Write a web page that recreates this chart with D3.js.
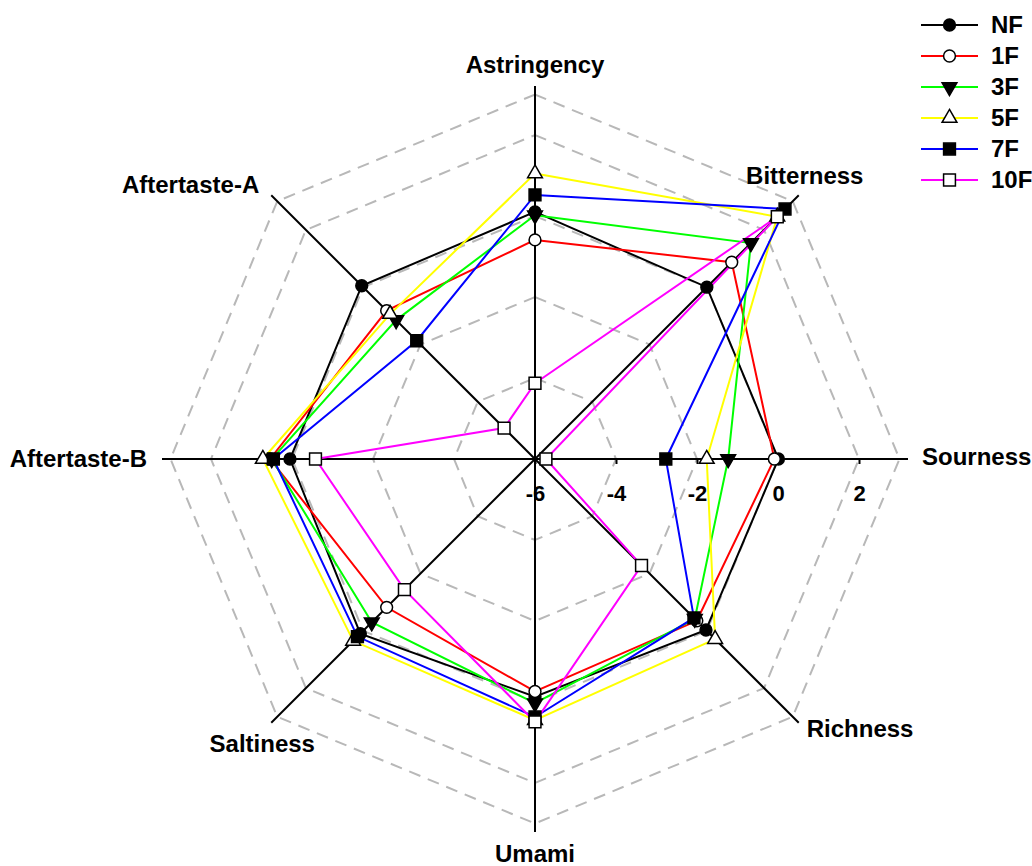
<!DOCTYPE html>
<html>
<head>
<meta charset="utf-8">
<script src="https://cdn.jsdelivr.net/npm/d3@7"></script>
<style>
  html, body { margin: 0; padding: 0; background: #fff; }
  svg { display: block; font-family: "Liberation Sans", Arial, sans-serif; }
</style>
</head>
<body>
<svg id="chart" width="1032" height="866"></svg>
<script>
// Taste attributes, clockwise from the top
const attributes = ["Astringency", "Bitterness", "Sourness", "Richness", "Umami", "Saltiness", "Aftertaste-B", "Aftertaste-A"];

// Sensor scores per sample, in attribute order
const seriesNames = ["NF", "1F", "3F", "5F", "7F", "10F"];
const valuesNF  = [0.10, 0.00, 0.01, -0.03, -0.13, 0.10, 0.05, 0.05];
const values1F  = [-0.59, 0.87, -0.09, -0.35, -0.26, -0.82, 0.54, -0.82];
const values3F  = [0.02, 1.54, -1.23, -0.42, 0.03, -0.30, 0.50, -1.15];
const values5F  = [1.05, 2.46, -1.76, 0.29, 0.45, 0.35, 0.72, -0.94];
const values7F  = [0.52, 2.73, -2.77, -0.45, 0.37, 0.20, 0.46, -1.87];
const values10F = [-4.13, 2.46, -5.73, -2.28, 0.49, -1.44, -0.58, -4.92];

// Radial scale labels and grid rings
const tickValues = [-6, -4, -2, 0, 2];
const ringValues = [-4, -2, 0, 2, 3];

const seriesValues = [valuesNF, values1F, values3F, values5F, values7F, values10F];
const colors = ["#000000", "#ff0000", "#00ff00", "#ffff00", "#0000ff", "#ff00ff"];
const shapes = [
  { type: d3.symbolCircle, size: 110, fill: "#000", rot: 0 },
  { type: d3.symbolCircle, size: 110, fill: "#fff", rot: 0 },
  { type: d3.symbolTriangle, size: 95, fill: "#000", rot: 180 },
  { type: d3.symbolTriangle, size: 95, fill: "#fff", rot: 0 },
  { type: d3.symbolSquare, size: 140, fill: "#000", rot: 0 },
  { type: d3.symbolSquare, size: 140, fill: "#fff", rot: 0 }
];

const svg = d3.select("#chart");
const cx = 535, cy = 459;
const r = d3.scaleLinear().domain([-6, 3]).range([0, 364.5]);
const axisLen = 373;

const angle = i => -Math.PI / 2 + i * 2 * Math.PI / attributes.length;
const pt = (i, rad) => [cx + rad * Math.cos(angle(i)), cy + rad * Math.sin(angle(i))];

// Dashed octagonal grid rings
const g = svg.append("g");
ringValues.forEach(v => {
  const pts = attributes.map((_, i) => pt(i, r(v)));
  g.append("polygon")
    .attr("points", pts.map(p => p.join(",")).join(" "))
    .attr("fill", "none")
    .attr("stroke", "#b8b8b8")
    .attr("stroke-width", 2)
    .attr("stroke-dasharray", "12,8");
});

// Spokes
attributes.forEach((_, i) => {
  const e = pt(i, axisLen);
  g.append("line")
    .attr("x1", cx).attr("y1", cy)
    .attr("x2", e[0]).attr("y2", e[1])
    .attr("stroke", "#000").attr("stroke-width", 2);
});

// Radial tick labels along the Sourness spoke
const axis = d3.axisBottom(d3.scaleLinear().domain([-6, 3]).range([cx, cx + 364.5]))
  .tickValues(tickValues)
  .tickSizeInner(5)
  .tickSizeOuter(0)
  .tickPadding(21);
const ax = svg.append("g").attr("transform", `translate(0,${cy})`).call(axis);
ax.select(".domain").remove();
ax.selectAll(".tick line").attr("stroke", "#000").attr("stroke-width", 2);
ax.selectAll(".tick text")
  .attr("font-size", 22).attr("font-weight", "bold")
  .attr("font-family", "'Liberation Sans', Arial, sans-serif")
  .attr("fill", "#000")
  .text(d => String(d));

// Attribute labels
const labelPos = [
  { dx: 0, dy: -13, anchor: "middle" },
  { dx: 6, dy: -11, anchor: "middle" },
  { dx: 14, dy: 6, anchor: "start" },
  { dx: 8, dy: 14, anchor: "start" },
  { dx: 0, dy: 30, anchor: "middle" },
  { dx: -9, dy: 29, anchor: "middle" },
  { dx: -15, dy: 8, anchor: "end" },
  { dx: -12, dy: -2, anchor: "end" }
];
attributes.forEach((name, i) => {
  const e = pt(i, axisLen);
  svg.append("text")
    .attr("x", e[0] + labelPos[i].dx)
    .attr("y", e[1] + labelPos[i].dy)
    .attr("text-anchor", labelPos[i].anchor)
    .attr("font-size", 24).attr("font-weight", "bold")
    .text(name);
});

// Series polygons and markers
const line = d3.line().curve(d3.curveLinearClosed);
seriesValues.forEach((vals, s) => {
  const pts = vals.map((v, i) => pt(i, r(v)));
  svg.append("path")
    .attr("d", line(pts))
    .attr("fill", "none")
    .attr("stroke", colors[s])
    .attr("stroke-width", 2);
});
seriesValues.forEach((vals, s) => {
  const pts = vals.map((v, i) => pt(i, r(v)));
  const sh = shapes[s];
  svg.append("g").selectAll("path")
    .data(pts)
    .join("path")
    .attr("d", d3.symbol().type(sh.type).size(sh.size))
    .attr("transform", p => `translate(${p[0]},${p[1]}) rotate(${sh.rot})`)
    .attr("fill", sh.fill)
    .attr("stroke", "#000")
    .attr("stroke-width", 1.5);
});

// Legend
const legend = svg.append("g");
const legendY = d3.scalePoint().domain(seriesNames).range([25, 180]);
seriesNames.forEach((name, s) => {
  const y = legendY(name);
  const sh = shapes[s];
  legend.append("line")
    .attr("x1", 921).attr("x2", 978).attr("y1", y).attr("y2", y)
    .attr("stroke", colors[s]).attr("stroke-width", 2);
  legend.append("path")
    .attr("d", d3.symbol().type(sh.type).size(sh.size))
    .attr("transform", `translate(949.5,${y}) rotate(${sh.rot})`)
    .attr("fill", sh.fill).attr("stroke", "#000").attr("stroke-width", 1.5);
  legend.append("text")
    .attr("x", 991).attr("y", y + 8)
    .attr("font-size", 24).attr("font-weight", "bold")
    .text(name);
});
</script>
</body>
</html>
